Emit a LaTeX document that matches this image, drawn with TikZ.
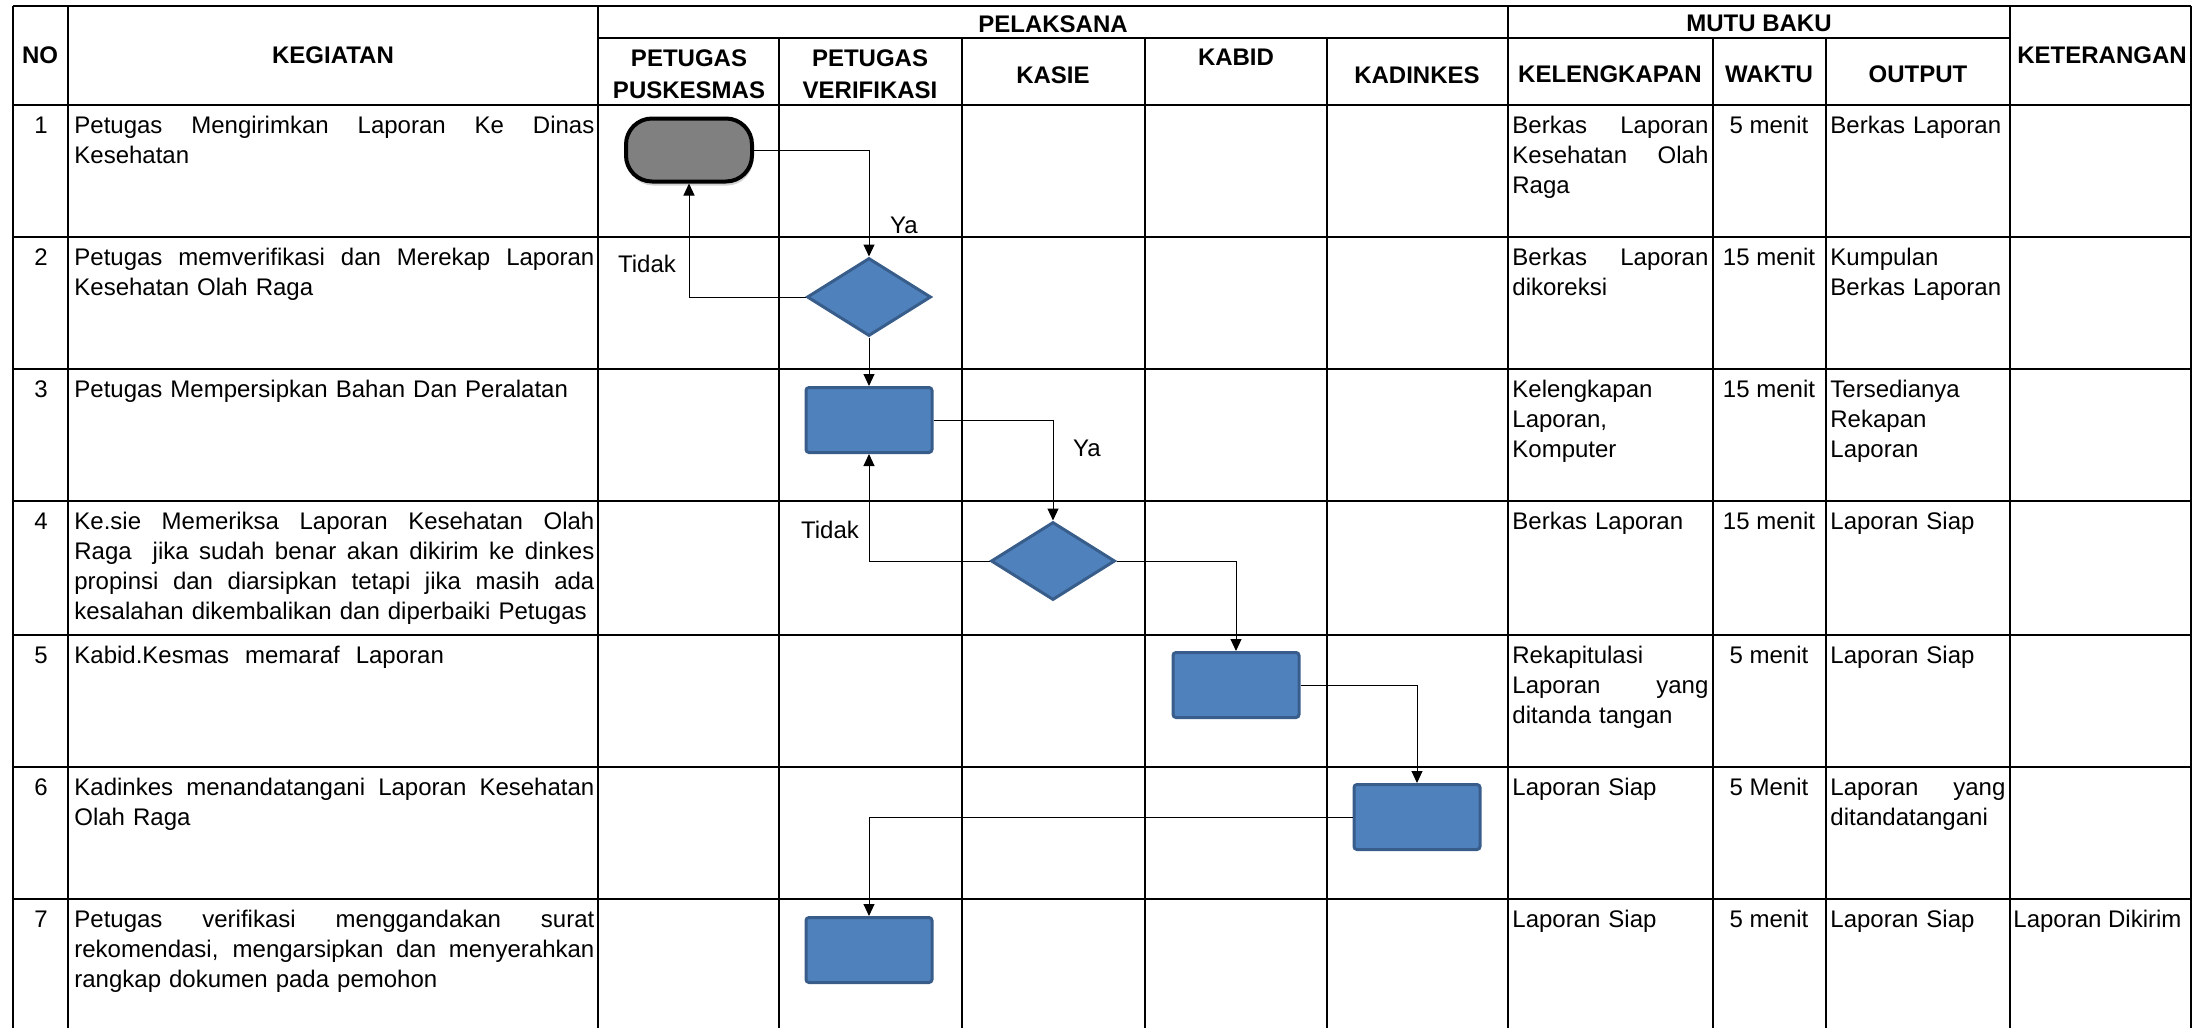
\documentclass[tikz,border=0pt]{standalone}
\usepackage{fontspec}
\setmainfont{Liberation Sans}
\usepackage{xcolor}
\usepackage{tikz}
\usetikzlibrary{arrows.meta,shapes.geometric,shadows}

\definecolor{procblue}{HTML}{4F81BD}
\definecolor{procline}{HTML}{385D8A}
% one justified line, spread over the given cell width
\newcommand{\jl}[2]{{\spaceskip=\fontdimen2\font plus 1fil\makebox[#1][s]{#2}}}

\begin{document}
\begin{tikzpicture}[
    x=0.5pt, y=-0.5pt,
    grid/.style={line width=1.1pt},
    head/.style={font=\fontsize{12}{16}\selectfont\bfseries, align=center, inner sep=0pt},
    cell/.style={font=\fontsize{12}{15}\selectfont, inner sep=0pt, anchor=base west, align=left},
    waktu/.style={font=\fontsize{12}{15}\selectfont, inner sep=0pt, anchor=base},
    terminal/.style={rectangle, rounded corners=13pt, draw=black, line width=2pt, fill=black!50, minimum width=63pt, minimum height=31.5pt,
        drop shadow={shadow xshift=0.5pt, shadow yshift=-2pt, fill=black!35}},
    proc/.style={rectangle, draw=procline, fill=procblue, line width=1.5pt, rounded corners=1.5pt, minimum width=63pt, minimum height=32.5pt, inner sep=0pt},
    decision/.style={diamond, draw=procline, fill=procblue, line width=1.5pt, minimum width=62pt, minimum height=39pt, inner sep=0pt},
    arrow/.style={-{Triangle[length=6pt,width=5.5pt]}, line width=0.5pt},
    answer/.style={font=\fontsize{12}{15}\selectfont, inner sep=0pt}
]
\useasboundingbox (0,0) rectangle (2202,1028);

% Table grid
\draw[grid] (13,6) -- (2191,6);
\draw[grid] (598,38) -- (2010,38);
\foreach \y in {105,237,369,501,635,767,899}
  \draw[grid] (13,\y) -- (2191,\y);
\foreach \x in {13,68,598,1508,2010,2191}
  \draw[grid] (\x,6) -- (\x,1028);
\foreach \x in {779,962,1145,1327,1713,1826}
  \draw[grid] (\x,38) -- (\x,1028);

% Header
\node[head] (hno) at (40,55) {NO};
\node[head] (hkeg) at (333,55) {KEGIATAN};
\node[head] (hpel) at (1053,24) {PELAKSANA};
\node[head] (hpus) at (689,74) {PETUGAS\\PUSKESMAS};
\node[head] (hver) at (870,74) {PETUGAS\\VERIFIKASI};
\node[head] (hkasie) at (1053,75) {KASIE};
\node[head] (hkabid) at (1236,57) {KABID};
\node[head] (hkadin) at (1417,75) {KADINKES};
\node[head] (hmutu) at (1759,23) {MUTU BAKU};
\node[head] (hkel) at (1610,74) {KELENGKAPAN};
\node[head] (hwaktu) at (1769,74) {WAKTU};
\node[head] (hout) at (1918,74) {OUTPUT};
\node[head] (hket) at (2102,55) {KETERANGAN};

% Numbers and time per step
\foreach \n/\y/\t in {1/105/5 menit,2/237/15 menit,3/369/15 menit,4/501/15 menit,5/635/5 menit,6/767/5 Menit,7/899/5 menit} {
  \node[waktu] (no\n) at (41,\y+28) {\n};
  \node[waktu] (waktu\n) at (1769,\y+28) {\t};
}

% Activities
\node[cell, text width=260pt] (keg1) at (74,133) {\jl{260pt}{Petugas Mengirimkan Laporan Ke Dinas}\\Kesehatan};
\node[cell, text width=260pt] (keg2) at (74,265) {\jl{260pt}{Petugas memverifikasi dan Merekap Laporan}\\Kesehatan Olah Raga};
\node[cell, text width=260pt] (keg3) at (74,397) {Petugas Mempersipkan Bahan Dan Peralatan};
\node[cell, text width=260pt] (keg4) at (74,529) {\jl{260pt}{Ke.sie Memeriksa Laporan Kesehatan Olah}\\\jl{260pt}{Raga~ jika sudah benar akan dikirim ke dinkes}\\\jl{260pt}{propinsi dan diarsipkan tetapi jika masih ada}\\kesalahan dikembalikan dan diperbaiki Petugas};
\node[cell, text width=260pt] (keg5) at (74,663) {Kabid.Kesmas~ memaraf~ Laporan};
\node[cell, text width=260pt] (keg6) at (74,795) {\jl{260pt}{Kadinkes menandatangani Laporan Kesehatan}\\Olah Raga};
\node[cell, text width=260pt] (keg7) at (74,927) {\jl{260pt}{Petugas verifikasi menggandakan surat}\\\jl{260pt}{rekomendasi, mengarsipkan dan menyerahkan}\\rangkap dokumen pada pemohon};

% Kelengkapan
\node[cell, text width=98pt] (kel1) at (1512,133) {\jl{98pt}{Berkas Laporan}\\\jl{98pt}{Kesehatan Olah}\\Raga};
\node[cell, text width=98pt] (kel2) at (1512,265) {\jl{98pt}{Berkas Laporan}\\dikoreksi};
\node[cell, text width=98pt] (kel3) at (1512,397) {Kelengkapan\\Laporan,\\Komputer};
\node[cell, text width=98pt] (kel4) at (1512,529) {Berkas Laporan};
\node[cell, text width=98pt] (kel5) at (1512,663) {Rekapitulasi\\\jl{98pt}{Laporan yang}\\ditanda tangan};
\node[cell, text width=98pt] (kel6) at (1512,795) {Laporan Siap};
\node[cell, text width=98pt] (kel7) at (1512,927) {Laporan Siap};

% Output
\node[cell, text width=87.5pt] (out1) at (1830,133) {Berkas Laporan};
\node[cell, text width=87.5pt] (out2) at (1830,265) {Kumpulan\\Berkas Laporan};
\node[cell, text width=87.5pt] (out3) at (1830,397) {Tersedianya\\Rekapan\\Laporan};
\node[cell, text width=87.5pt] (out4) at (1830,529) {Laporan Siap};
\node[cell, text width=87.5pt] (out5) at (1830,663) {Laporan Siap};
\node[cell, text width=87.5pt] (out6) at (1830,795) {\jl{87.5pt}{Laporan yang}\\ditandatangani};
\node[cell, text width=87.5pt] (out7) at (1830,927) {Laporan Siap};

% Keterangan
\node[cell] (ket7) at (2013,927) {Laporan Dikirim};

% Flow shapes
\node[terminal] (kirim) at (689,150) {};
\node[decision] (verif) at (869,297) {};
\node[proc] (rekap) at (869,420) {};
\node[decision] (periksa) at (1053,561) {};
\node[proc] (paraf) at (1236,685) {};
\node[proc] (ttd) at (1417,817) {};
\node[proc] (arsip) at (869,950) {};

% Connectors
\draw[arrow] (kirim.east) -| (verif.north);
\draw[arrow] (verif.west) -| (kirim.south);
\draw[arrow] (verif.south) -- (rekap.north);
\draw[arrow] (rekap.east) -| (periksa.north);
\draw[arrow] (periksa.west) -| (rekap.south);
\draw[arrow] (periksa.east) -| (paraf.north);
\draw[arrow] (paraf.east) -| (ttd.north);
\draw[arrow] (ttd.west) -| (arsip.north);

% Decision answers
\node[answer] (ya1) at (904,225) {Ya};
\node[answer] (tidak1) at (647,264) {Tidak};
\node[answer] (ya2) at (1087,448) {Ya};
\node[answer] (tidak2) at (830,530) {Tidak};
\end{tikzpicture}
\end{document}
